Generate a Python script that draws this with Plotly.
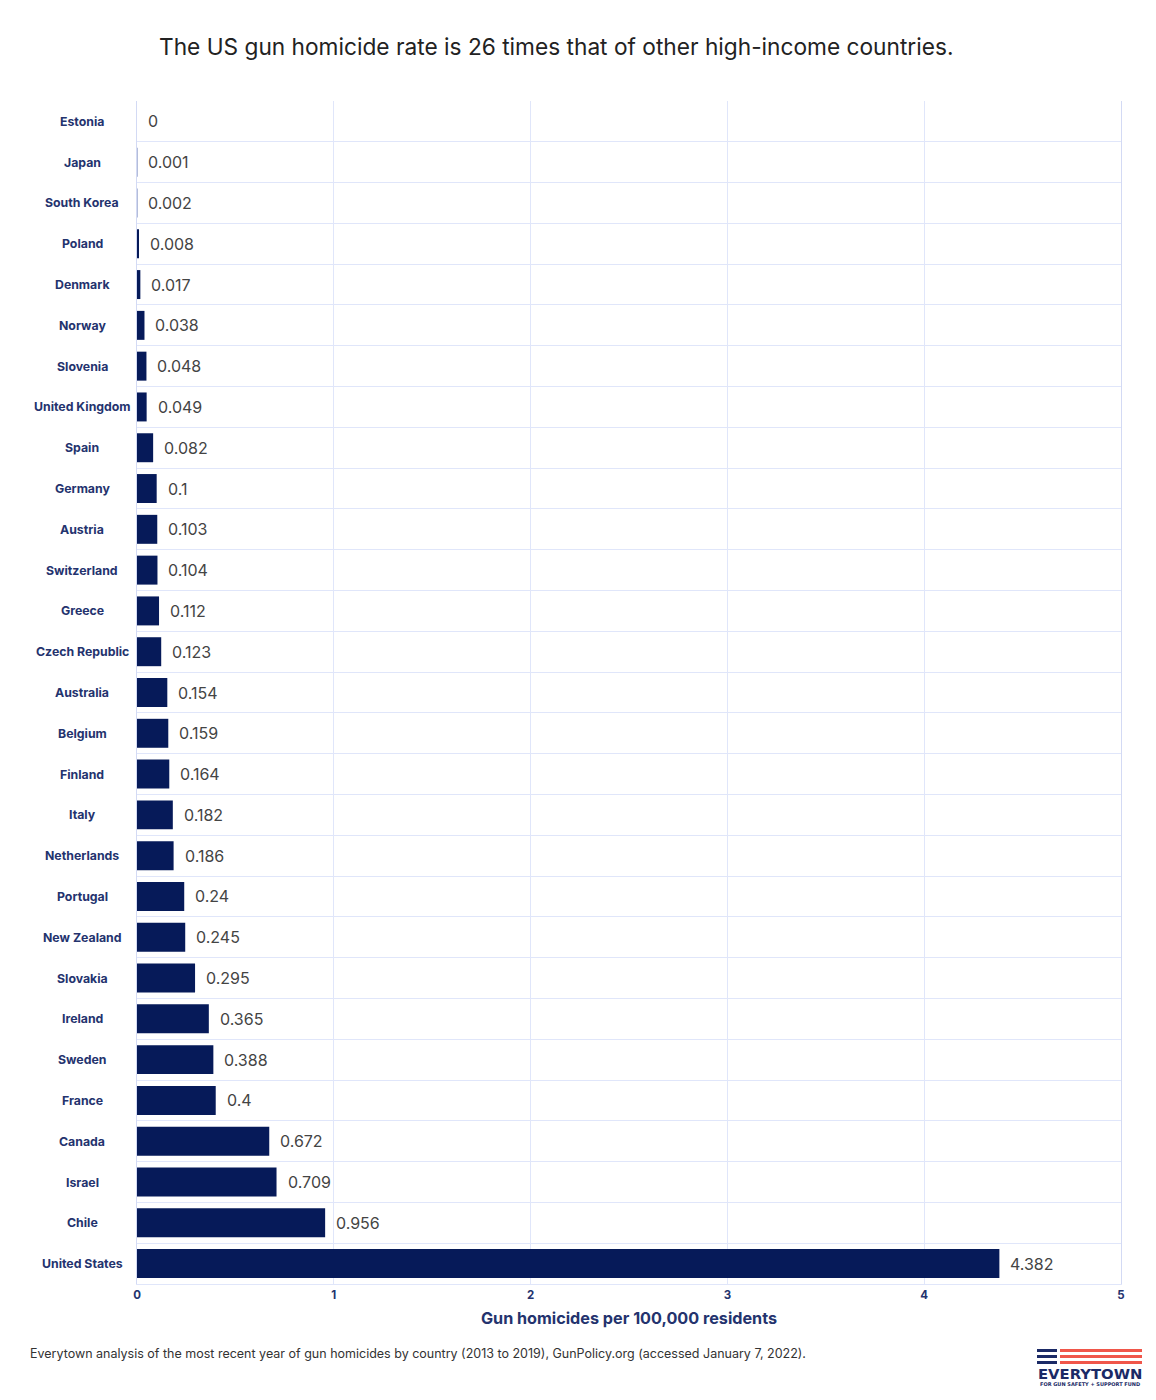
import plotly.graph_objects as go

# data
countries = ["Estonia", "Japan", "South Korea", "Poland", "Denmark", "Norway", "Slovenia",
             "United Kingdom", "Spain", "Germany", "Austria", "Switzerland", "Greece",
             "Czech Republic", "Australia", "Belgium", "Finland", "Italy", "Netherlands",
             "Portugal", "New Zealand", "Slovakia", "Ireland", "Sweden", "France", "Canada",
             "Israel", "Chile", "United States"]
rates = [0, 0.001, 0.002, 0.008, 0.017, 0.038, 0.048, 0.049, 0.082, 0.1, 0.103, 0.104, 0.112,
         0.123, 0.154, 0.159, 0.164, 0.182, 0.186, 0.24, 0.245, 0.295, 0.365, 0.388, 0.4, 0.672,
         0.709, 0.956, 4.382]
x_ticks = [0, 1, 2, 3, 4, 5]

title = "The US gun homicide rate is 26 times that of other high-income countries."
x_title = "Gun homicides per 100,000 residents"
source = ("Everytown analysis of the most recent year of gun homicides by country "
          "(2013 to 2019), GunPolicy.org (accessed January 7, 2022).")

NAVY = "#061A59"
LABEL = "#24336E"
GRID = "#E0E6FA"
FONT = "Inter, Noto Sans, sans-serif"
LOGO_FONT = "DejaVu Sans, sans-serif"

# the page has an 8px body margin, so the figure is drawn 8px in from the window edge
PAGE = 8
W, H = 1156 - 2 * PAGE, 1400 - 2 * PAGE
L, R, T, B = 137, 1121, 101, 1284


def px(x):
    return (x - L) / (R - L)


def py(y):
    return (B - y) / (B - T)


def note(x, y, text, size, color, anchor="center", family=FONT):
    fig.add_annotation(xref="paper", yref="paper", x=px(x), y=py(y), text=text, showarrow=False,
                       xanchor=anchor, yanchor="middle",
                       font=dict(family=family, size=size, color=color))


fig = go.Figure()
fig.add_trace(go.Bar(x=rates, y=countries, orientation="h",
                     marker_color=["#B4BDDA" if v < 0.005 else NAVY for v in rates],
                     marker_line_width=0, hoverinfo="x+y"))

# value labels next to the bars
for c, v in zip(countries, rates):
    fig.add_annotation(x=v, y=c, text=str(v), showarrow=False, xanchor="left", xshift=9,
                       font=dict(family=FONT, size=16, color="#444444"))

# country names are centred in the left margin
for c in countries:
    fig.add_annotation(xref="paper", x=px(82), y=c, text="<b>%s</b>" % c, showarrow=False,
                       xanchor="center", font=dict(family=FONT, size=12.3, color=LABEL))

note(556, 47, title, 22.7, "#222222")
note(28, 1353, source, 12.5, "#333333", anchor="left")

# logo
for y in [1350.5, 1356.5, 1362.5]:
    fig.add_shape(type="rect", xref="paper", yref="paper", x0=px(1037), x1=px(1057),
                  y0=py(y - 1.5), y1=py(y + 1.5), fillcolor="#1B2A66", line_width=0)
    fig.add_shape(type="rect", xref="paper", yref="paper", x0=px(1060), x1=px(1142),
                  y0=py(y - 1.5), y1=py(y + 1.5), fillcolor="#F0564A", line_width=0)
note(1089.5, 1373, "<b>EVERYTOWN</b>", 14.8, "#1B2A66", family=LOGO_FONT)
note(1089.5, 1384, "<b>FOR GUN SAFETY + SUPPORT FUND</b>", 5, "#1B2A66", family=LOGO_FONT)

fig.update_layout(
    width=W, height=H,
    margin=dict(l=L - PAGE, r=W - (R - PAGE), t=T - PAGE, b=H - (B - PAGE), pad=0),
    paper_bgcolor="white", plot_bgcolor="white",
    bargap=0.29, showlegend=False, font=dict(family=FONT),
)
fig.update_xaxes(
    range=[0, 5], tickvals=x_ticks, showgrid=True, gridcolor=GRID, gridwidth=1, zeroline=False,
    showline=True, linecolor=GRID, ticks="",
    tickfont=dict(family=FONT, size=11.5, color=LABEL, weight="bold"),
    title=dict(text="<b>%s</b>" % x_title, standoff=11,
               font=dict(family=FONT, size=16.2, color=LABEL)),
)
fig.update_yaxes(
    categoryorder="array", categoryarray=countries, autorange="reversed", tickson="boundaries",
    showgrid=True, gridcolor=GRID, gridwidth=1, showticklabels=False, ticks="",
    showline=True, linecolor="#D3DAF4", mirror=True, zeroline=False,
)

fig.write_html("out.html")
